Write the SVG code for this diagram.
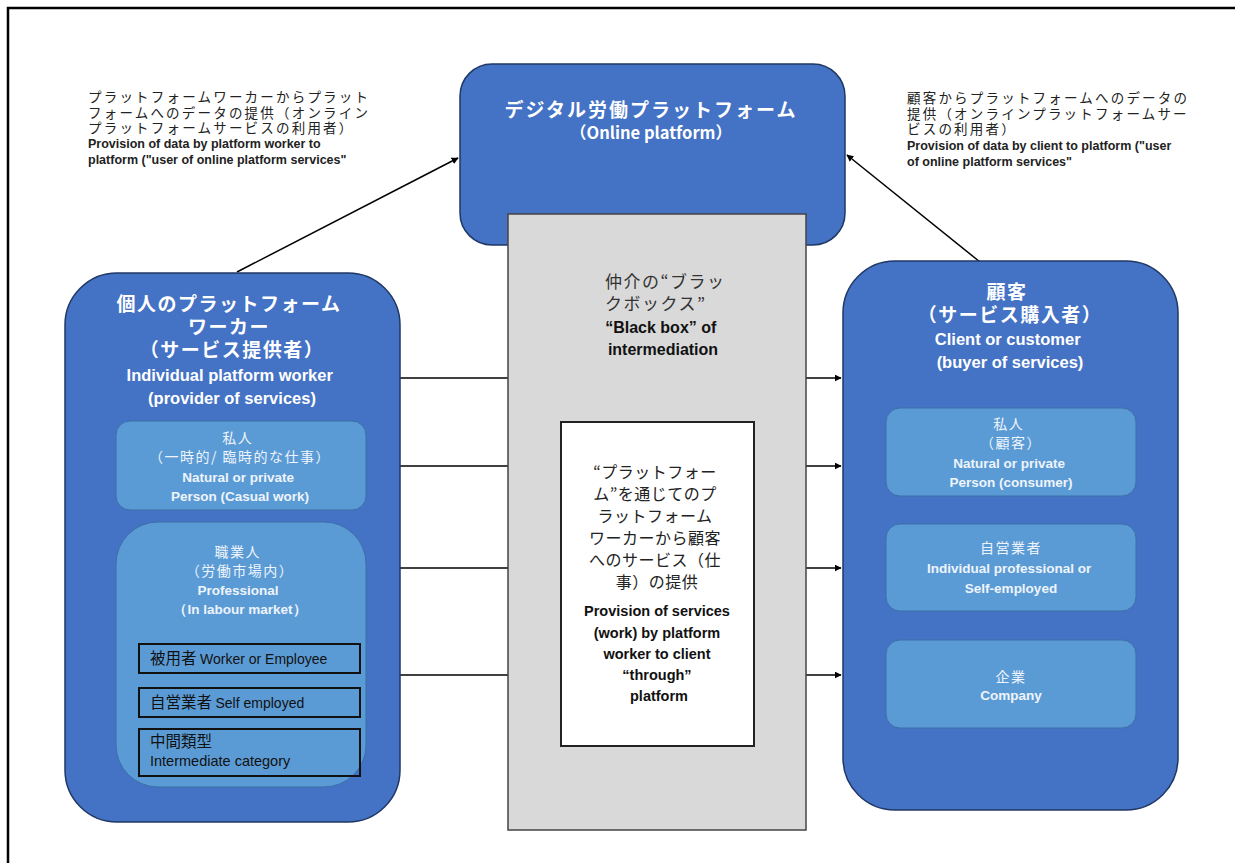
<svg xmlns="http://www.w3.org/2000/svg" width="1235" height="863" viewBox="0 0 1235 863">
<defs>
<marker id="ah" viewBox="0 0 10 10" refX="9" refY="5" markerWidth="7" markerHeight="7" orient="auto" markerUnits="userSpaceOnUse">
<path d="M0,0 L10,5 L0,10 z" fill="#000"/>
</marker>
</defs>
<style>
.outer{fill:#4472C4;stroke:#1F3864;stroke-width:1.5}
.inner{fill:#5B9BD5;stroke:#3D6FA8;stroke-width:1}
.small{fill:none;stroke:#111;stroke-width:2}
.jp{font-family:"Noto Sans CJK JP","Noto Sans",sans-serif}
.en{font-family:"Liberation Sans","Noto Sans",sans-serif}
.tw{fill:#fff;font-weight:bold;font-size:19px;letter-spacing:1.5px}
.twe{fill:#fff;font-weight:bold;font-size:16.5px}
.ti{fill:#EEF4FB;font-size:14px;letter-spacing:1.5px}
.tie{fill:#EEF4FB;font-size:13.5px;font-weight:bold}
.tb{font-weight:bold}
.note{font-size:13.5px;letter-spacing:2.2px;fill:#222}
.con{stroke:#000;stroke-width:1.5;fill:none;marker-end:url(#ah)}
</style>
<rect x="0" y="0" width="1235" height="863" fill="#fff"/>
<path d="M8,863 V8 H1235" fill="none" stroke="#000" stroke-width="2.5"/>

<g id="connectors">
<line class="con" x1="237" y1="272" x2="458" y2="158"/>
<line class="con" x1="980" y1="262" x2="847" y2="155"/>
<line class="con" x1="400" y1="378" x2="841" y2="378"/>
<line class="con" x1="400" y1="466" x2="841" y2="466"/>
<line class="con" x1="400" y1="568" x2="841" y2="568"/>
<line class="con" x1="400" y1="675" x2="841" y2="675"/>
</g>

<g id="label-left">
<text class="jp note">
<tspan x="88" y="102">プラットフォームワーカーからプラット</tspan>
<tspan x="88" y="118">フォームへのデータの提供（オンライン</tspan>
<tspan x="88" y="133">プラットフォームサービスの利用者）</tspan>
</text>
<text class="en tb" font-size="12.5" fill="#222">
<tspan x="88" y="148">Provision of data by platform worker to</tspan>
<tspan x="88" y="164">platform ("user of online platform services"</tspan>
</text>
</g>

<g id="label-right">
<text class="jp note">
<tspan x="907" y="103">顧客からプラットフォームへのデータの</tspan>
<tspan x="907" y="119">提供（オンラインプラットフォームサー</tspan>
<tspan x="907" y="134">ビスの利用者）</tspan>
</text>
<text class="en tb" font-size="12.5" fill="#222">
<tspan x="907" y="150">Provision of data by client to platform ("user</tspan>
<tspan x="907" y="166">of online platform services"</tspan>
</text>
</g>

<g id="platform">
<rect class="outer" x="460" y="64" width="385" height="181" rx="32"/>
<text class="jp tw" text-anchor="middle" x="651" y="117" style="letter-spacing:2px">デジタル労働プラットフォーム</text>
<text class="jp twe" text-anchor="middle" x="651" y="139" font-size="16">（Online platform）</text>
</g>

<g id="blackbox">
<rect x="508" y="214" width="298" height="616" fill="#D9D9D9" stroke="#444" stroke-width="1.5"/>
<text class="jp" font-size="17" letter-spacing="1.5" fill="#333">
<tspan x="605" y="288">仲介の“ブラッ</tspan>
<tspan x="605" y="310">クボックス”</tspan>
</text>
<text class="en tb" font-size="16" fill="#111" text-anchor="middle">
<tspan x="663" y="333">“Black box” of</tspan>
<tspan x="663" y="355">intermediation</tspan>
</text>
</g>

<g id="service">
<rect x="561" y="422" width="193" height="324" fill="#fff" stroke="#222" stroke-width="2"/>
<text class="jp" font-size="16" letter-spacing="0.5" fill="#222" text-anchor="middle">
<tspan x="657" y="478">“プラットフォー</tspan>
<tspan x="657" y="500">ム”を通じてのプ</tspan>
<tspan x="657" y="522">ラットフォーム</tspan>
<tspan x="657" y="544">ワーカーから顧客</tspan>
<tspan x="657" y="566">へのサービス（仕</tspan>
<tspan x="657" y="588">事）の提供</tspan>
</text>
<text class="en tb" font-size="14.5" fill="#111" text-anchor="middle">
<tspan x="659" y="616">Provision of services</tspan>
<tspan x="659" y="638">(work) by platform</tspan>
<tspan x="659" y="659">worker  to client</tspan>
<tspan x="659" y="680">“through”</tspan>
<tspan x="659" y="701">platform</tspan>
</text>
</g>

<g id="worker">
<rect class="outer" x="65" y="273" width="335" height="549" rx="52"/>
<text class="jp tw" text-anchor="middle">
<tspan x="232" y="311">個人のプラットフォーム</tspan>
<tspan x="232" y="334">ワーカー</tspan>
<tspan x="232" y="357">（サービス提供者）</tspan>
</text>
<text class="en twe" text-anchor="middle">
<tspan x="232" y="381">Individual  platform worker</tspan>
<tspan x="232" y="404">(provider of services)</tspan>
</text>
</g>

<g id="natural-person-worker">
<rect class="inner" x="116" y="421" width="250" height="89" rx="14"/>
<text class="jp ti" text-anchor="middle">
<tspan x="240" y="443">私人</tspan>
<tspan x="240" y="462">（一時的/ 臨時的な仕事）</tspan>
</text>
<text class="en tie" text-anchor="middle">
<tspan x="240" y="482">Natural or private</tspan>
<tspan x="240" y="501">Person (Casual work)</tspan>
</text>
</g>

<g id="professional">
<rect class="inner" x="116" y="522" width="250" height="265" rx="42"/>
<text class="jp ti" text-anchor="middle">
<tspan x="240" y="557">職業人</tspan>
<tspan x="240" y="576">（労働市場内）</tspan>
</text>
<text class="en tie" text-anchor="middle">
<tspan x="240" y="595">Professional</tspan>
<tspan x="240" y="614">（In labour  market）</tspan>
</text>
</g>

<g id="employee">
<rect class="small" x="139" y="644" width="221" height="29"/>
<text x="150" y="664" fill="#111"><tspan class="jp" font-size="15.5">被用者 </tspan><tspan class="en" font-size="14">Worker or Employee</tspan></text>
</g>
<g id="self-employed">
<rect class="small" x="139" y="688" width="221" height="29"/>
<text x="150" y="708" fill="#111"><tspan class="jp" font-size="15.5">自営業者 </tspan><tspan class="en" font-size="14">Self employed</tspan></text>
</g>
<g id="intermediate">
<rect class="small" x="139" y="729" width="221" height="47"/>
<text class="jp" x="150" y="747" font-size="15.5" fill="#111">中間類型</text>
<text class="en" x="150" y="766" font-size="14.5" fill="#111">Intermediate category</text>
</g>

<g id="client">
<rect class="outer" x="843" y="261" width="335" height="549" rx="52"/>
<text class="jp tw" text-anchor="middle">
<tspan x="1010" y="299">顧客</tspan>
<tspan x="1010" y="322">（サービス購入者）</tspan>
</text>
<text class="en twe" text-anchor="middle" font-size="16">
<tspan x="1010" y="345">Client  or  customer</tspan>
<tspan x="1010" y="368">(buyer of services)</tspan>
</text>
</g>

<g id="consumer">
<rect class="inner" x="886" y="408" width="250" height="88" rx="14"/>
<text class="jp ti" text-anchor="middle">
<tspan x="1011" y="429">私人</tspan>
<tspan x="1011" y="448">（顧客）</tspan>
</text>
<text class="en tie" text-anchor="middle">
<tspan x="1011" y="468">Natural or private</tspan>
<tspan x="1011" y="487">Person  (consumer)</tspan>
</text>
</g>

<g id="client-self-employed">
<rect class="inner" x="886" y="524" width="250" height="87" rx="14"/>
<text class="jp ti" text-anchor="middle" x="1011" y="553">自営業者</text>
<text class="en tie" text-anchor="middle">
<tspan x="1011" y="573">Individual  professional   or</tspan>
<tspan x="1011" y="593">Self-employed</tspan>
</text>
</g>

<g id="company">
<rect class="inner" x="886" y="640" width="250" height="88" rx="14"/>
<text class="jp ti" text-anchor="middle" x="1011" y="682">企業</text>
<text class="en tie" text-anchor="middle" x="1011" y="700">Company</text>
</g>
</svg>
